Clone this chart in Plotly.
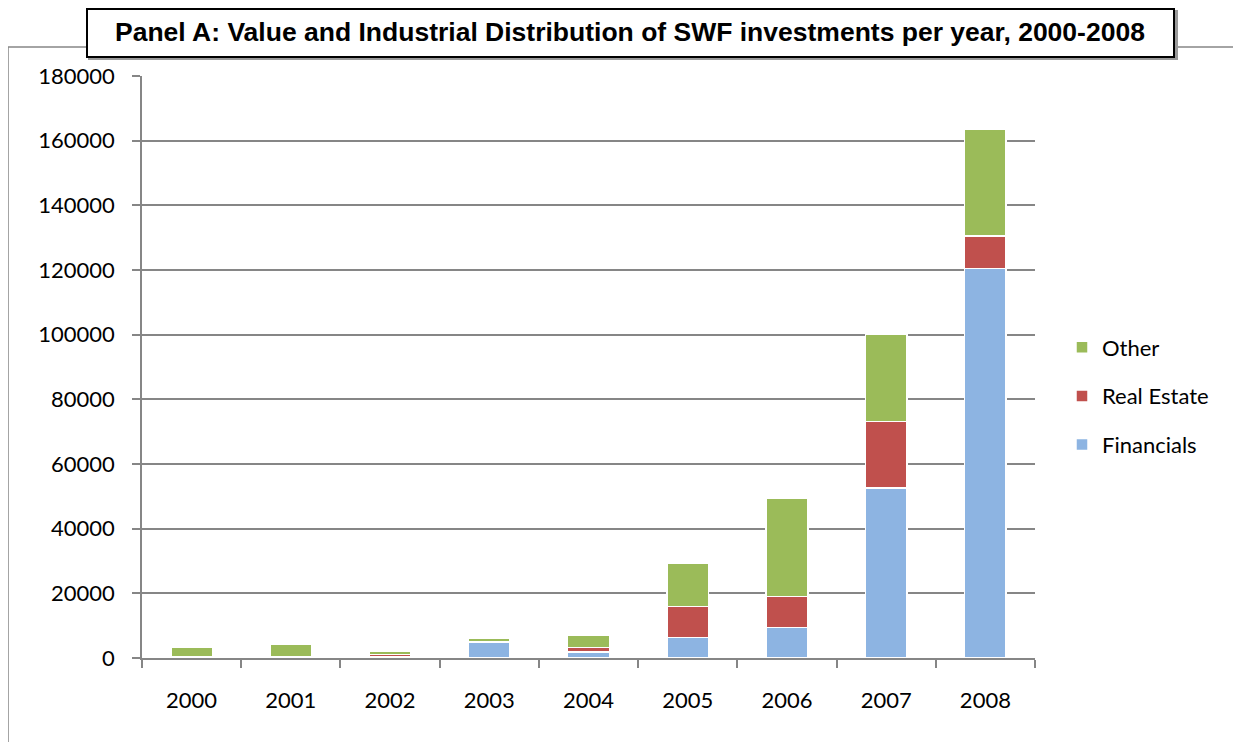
import plotly.graph_objects as go

years = ["2000", "2001", "2002", "2003", "2004", "2005", "2006", "2007", "2008"]
financials = [100, 0, 300, 4900, 1800, 6400, 9500, 52600, 120500]
real_estate = [200, 300, 800, 100, 1500, 9500, 9500, 20500, 10000]
other = [3100, 4100, 1100, 1100, 3800, 13500, 30500, 27000, 33000]
y_ticks = [0, 20000, 40000, 60000, 80000, 100000, 120000, 140000, 160000, 180000]
title_text = "Panel A: Value and Industrial Distribution of SWF investments per year, 2000-2008"

# page body has an 8px margin: work in screen pixels, convert to figure pixels
OFF = 8
SW, SH = 1241, 742
W, H = SW - OFF, SH - OFF
PL, PR, PT, PB = 142, 1035, 76, 658  # plot area in screen pixels
L, T = PL - OFF, PT - OFF
R, B = W - (PR - OFF), H - (PB - OFF)
pw, ph = PR - PL, PB - PT

def px_x(p):
    return (p - PL) / pw

def px_y(p):
    return (PB - p) / ph

GRID = "#868686"
FONT = "Lato"

fig = go.Figure()
series = [("Financials", financials, "#8DB4E2", 3),
          ("Real Estate", real_estate, "#C0504D", 2),
          ("Other", other, "#9BBB59", 1)]
for name, vals, col, rank in series:
    fig.add_trace(go.Bar(
        x=years, y=vals, name=name, legendgroup=name, legendrank=rank,
        marker=dict(color=col, line=dict(color="white", width=1.5)),
    ))

fig.update_layout(
    width=W, height=H,
    barmode="stack", bargap=0.58,
    margin=dict(l=L, r=R, t=T, b=B, autoexpand=False),
    paper_bgcolor="white", plot_bgcolor="white",
    font=dict(family=FONT, size=22, color="black"),
    legend=dict(x=px_x(1062), xanchor="left", y=px_y(396), yanchor="middle",
                traceorder="grouped", tracegroupgap=17,
                font=dict(family=FONT, size=22, color="black"),
                bgcolor="rgba(0,0,0,0)"),
    xaxis=dict(type="category", showline=True, linecolor=GRID, linewidth=1.5,
               ticks="outside", tickson="boundaries", ticklen=8, tickcolor=GRID,
               tickwidth=1.5, showgrid=False, ticklabelstandoff=22,
               tickfont=dict(family=FONT, size=22)),
    yaxis=dict(range=[0, 180000], tickvals=y_ticks, showline=True, linecolor=GRID,
               linewidth=1.5, ticks="outside", ticklen=8, tickcolor=GRID, tickwidth=1.5,
               showgrid=True, gridcolor=GRID, gridwidth=1.5, zeroline=False,
               ticklabelstandoff=13, tickformat="d",
               tickfont=dict(family=FONT, size=22)),
    shapes=[
        dict(type="rect", xref="paper", yref="paper",
             x0=px_x(8), x1=px_x(1270), y0=px_y(770), y1=px_y(47),
             line=dict(color="#878787", width=1.5), fillcolor="rgba(0,0,0,0)", layer="below"),
        dict(type="rect", xref="paper", yref="paper",
             x0=px_x(89), x1=px_x(1177), y0=px_y(59), y1=px_y(11),
             line=dict(color="#9a9a9a", width=2), fillcolor="#9a9a9a", layer="above"),
        dict(type="rect", xref="paper", yref="paper",
             x0=px_x(87), x1=px_x(1174), y0=px_y(57), y1=px_y(9),
             line=dict(color="black", width=2), fillcolor="white", layer="above"),
    ],
    annotations=[
        dict(text="<b>" + title_text + "</b>", xref="paper", yref="paper",
             x=px_x(630), y=px_y(32), xanchor="center", yanchor="middle",
             showarrow=False,
             font=dict(family="Liberation Sans", size=26.5, color="black")),
    ],
)

fig.write_html("out.html")
